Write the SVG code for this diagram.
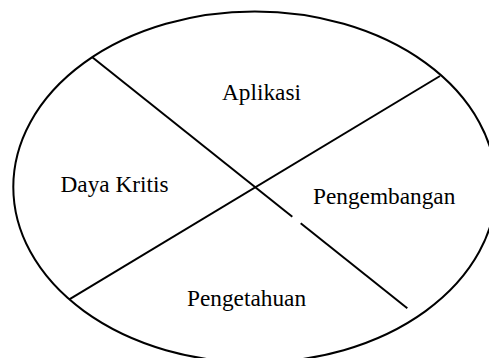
<svg xmlns="http://www.w3.org/2000/svg" width="489" height="358" viewBox="0 0 489 358">
  <style>
    .shape { fill: none; stroke: #000; stroke-width: 2; }
    .lbl { font-family: "Liberation Serif", "Times New Roman", serif; font-size: 23.3px; fill: #000; }
  </style>
  <rect width="489" height="358" fill="#fff"/>
  <g id="ellipse">
    <ellipse class="shape" cx="254.8" cy="187" rx="241.5" ry="175.5"/>
  </g>
  <g id="connectors">
    <line class="shape" x1="92.3" y1="57.3" x2="292.3" y2="216.7"/>
    <line class="shape" x1="300.7" y1="223.3" x2="407.3" y2="308.3"/>
    <line class="shape" x1="69.3" y1="299.3" x2="440" y2="76"/>
  </g>
  <g id="aplikasi"><text class="lbl" x="222" y="100">Aplikasi</text></g>
  <g id="daya-kritis"><text class="lbl" x="60.5" y="192">Daya Kritis</text></g>
  <g id="pengembangan"><text class="lbl" x="313" y="204">Pengembangan</text></g>
  <g id="pengetahuan"><text class="lbl" x="187" y="306">Pengetahuan</text></g>
</svg>
